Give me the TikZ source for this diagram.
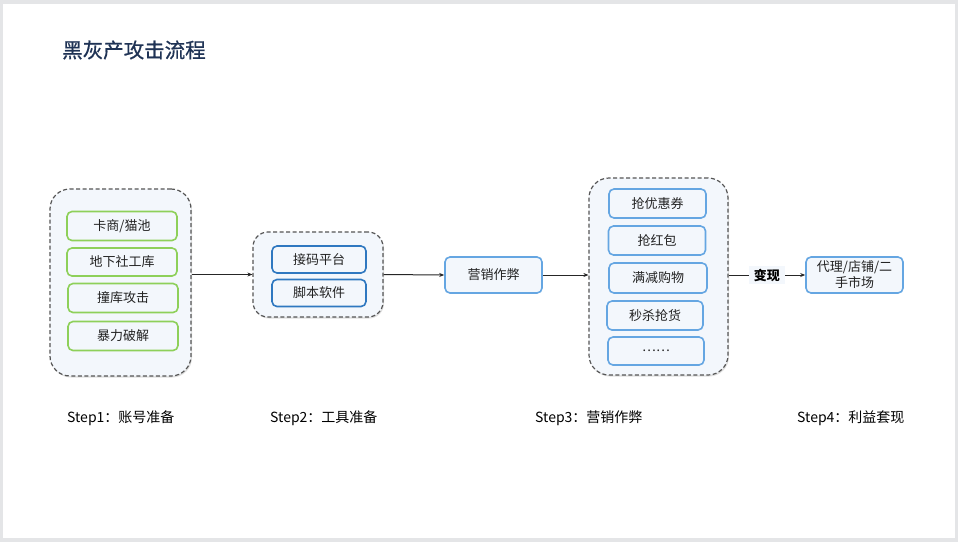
\documentclass[tikz,border=0pt]{standalone}
\usepackage{fontspec}
\setmainfont{Noto Sans CJK SC}
\newfontfamily\titlefont[FakeBold=0.7]{Noto Sans CJK SC}
\usetikzlibrary{arrows.meta,shadows}
\definecolor{bggray}{HTML}{E4E5E7}
\definecolor{grpfill}{HTML}{F3F7FC}
\definecolor{grpline}{HTML}{555555}
\definecolor{greenline}{HTML}{8ED05A}
\definecolor{darkblue}{HTML}{2F78C0}
\definecolor{lightblue}{HTML}{65A6E2}
\definecolor{txt}{HTML}{222222}
\definecolor{titlecol}{HTML}{1F3355}
\tikzset{
  x=1pt,y=-1pt,
  grp/.style={draw=grpline,line width=1.2pt,dash pattern=on 4pt off 2.5pt,fill=grpfill,
    rounded corners=#1,drop shadow={opacity=0.25,shadow xshift=1pt,shadow yshift=-1.5pt}},
  boxbase/.style={line width=1.6pt,fill=grpfill,rounded corners=5pt,text=txt,
    font=\fontsize{13}{15}\selectfont,inner sep=0pt},
  gbox/.style={boxbase,draw=greenline},
  dbox/.style={boxbase,draw=darkblue},
  lbox/.style={boxbase,draw=lightblue},
  steplabel/.style={text=black,font=\fontsize{14}{16}\selectfont,anchor=west,inner sep=0pt},
  conn/.style={draw=black!85,line width=1pt,-{Stealth[length=5pt,width=4pt]}},
}
\begin{document}
\begin{tikzpicture}
\fill[bggray] (0,0) rectangle (958,542);
\fill[white] (3,4) rectangle (955,538);
\useasboundingbox (0,0) rectangle (958,542);

\node[anchor=west,text=titlecol,font=\titlefont\fontsize{20.5}{22}\selectfont,inner sep=0pt] (title) at (62,50) {黑灰产攻击流程};

% group 1
\node[grp=20pt,minimum width=141pt,minimum height=187pt] (g1) at (120.5,282.5) {};
\node[gbox,minimum width=110pt,minimum height=29pt] (a1) at (122,226) {卡商/猫池};
\node[gbox,minimum width=110pt,minimum height=28pt] (a2) at (122,262) {地下社工库};
\node[gbox,minimum width=110pt,minimum height=29pt] (a3) at (123,298) {撞库攻击};
\node[gbox,minimum width=110pt,minimum height=29pt] (a4) at (123,336) {暴力破解};

% group 2
\node[grp=15pt,minimum width=130pt,minimum height=85pt] (g2) at (318,274.5) {};
\node[dbox,minimum width=94pt,minimum height=27pt] (b1) at (319,259.5) {接码平台};
\node[dbox,minimum width=94pt,minimum height=27pt] (b2) at (319,293) {脚本软件};

% marketing node
\node[lbox,minimum width=97pt,minimum height=36pt] (m) at (493.5,275) {营销作弊};

% group 3
\node[grp=20pt,minimum width=139pt,minimum height=197pt] (g3) at (658.5,276.5) {};
\node[lbox,minimum width=97pt,minimum height=29pt] (c1) at (657.5,203.5) {抢优惠券};
\node[lbox,minimum width=97pt,minimum height=29pt] (c2) at (657,240.5) {抢红包};
\node[lbox,minimum width=98pt,minimum height=30pt] (c3) at (658,278) {满减购物};
\node[lbox,minimum width=96pt,minimum height=29pt] (c4) at (655,315.5) {秒杀抢货};
\node[lbox,minimum width=96pt,minimum height=28pt] (c5) at (656,351) {\raisebox{-2pt}{……}};

% final node
\node[lbox,minimum width=97pt,minimum height=36pt,align=center,font=\fontsize{13}{16}\selectfont] (f) at (854.5,275) {代理/店铺/二\\手市场};

% connectors
\draw[conn] (g1.east |- g2.west) -- (g2.west);
\draw[conn] (g2.east) -- (m.west);
\draw[conn] (m.west -| m.east) -- (g3.west |- m.east);
\draw[conn] (g3.east |- f.west) -- node[fill=grpfill,text=black,font=\bfseries\fontsize{13}{15}\selectfont,inner xsep=5pt,inner ysep=3pt] (lbl) {变现} (f.west);

% step labels
\node[steplabel] (s1) at (67,418) {Step1：账号准备};
\node[steplabel] (s2) at (270,418) {Step2：工具准备};
\node[steplabel] (s3) at (535,418) {Step3：营销作弊};
\node[steplabel] (s4) at (797,418) {Step4：利益套现};
\end{tikzpicture}
\end{document}
